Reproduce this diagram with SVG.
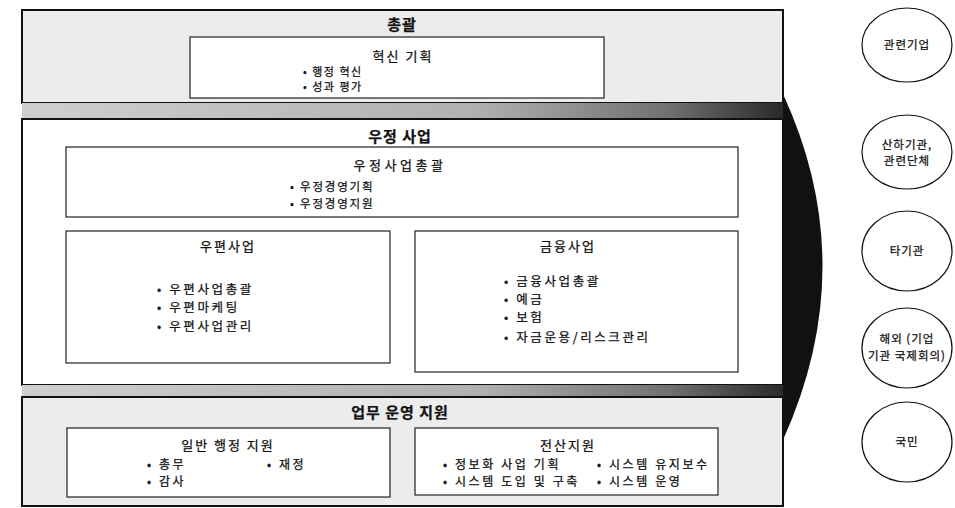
<svg xmlns="http://www.w3.org/2000/svg" width="955" height="508" viewBox="0 0 955 508">
<defs>
<linearGradient id="band" x1="0" y1="0" x2="1" y2="0">
<stop offset="0" stop-color="#cfcfcf"/>
<stop offset="0.6" stop-color="#b0b0b0"/>
<stop offset="0.85" stop-color="#707070"/>
<stop offset="1" stop-color="#2a2a2a"/>
</linearGradient>
<style>
text{font-family:"Noto Sans CJK KR","Noto Sans",sans-serif;fill:#111;stroke:#111;stroke-width:0.25}
.outer{stroke:#111;stroke-width:2}
.gray{fill:#ececec}
.inner{fill:#fff;stroke:#222;stroke-width:1.2}
.h1{font-size:15px;font-weight:bold;text-anchor:middle;letter-spacing:1px}
.h2{font-size:13px;text-anchor:middle;letter-spacing:2px}
.h2w{letter-spacing:3.5px}
.b{font-size:11px;letter-spacing:1.5px}
.bs{font-size:11.5px;letter-spacing:1.8px}
.bl{font-size:12.5px;letter-spacing:2.6px}
.bm{font-size:12px;letter-spacing:2.6px}
.c{fill:#fff;stroke:#111;stroke-width:1.2}
.ct{font-size:11.5px;text-anchor:middle;letter-spacing:1px}
</style>
</defs>
<g id="crescent">
<path d="M783,94 Q862,265 783,440 Z" fill="#111"/>
</g>
<g id="top">
<rect class="outer gray" x="22" y="10" width="761" height="93"/>
<rect x="22" y="103" width="761" height="16" fill="url(#band)"/>
<text class="h1" x="402" y="30">총괄</text>
<g id="innovation">
<rect class="inner" x="190" y="37" width="414" height="61"/>
<text class="h2" x="403" y="61">혁신 기획</text>
<text class="b" x="303" y="76">• 행정 혁신</text>
<text class="b" x="303" y="91">• 성과 평가</text>
</g>
</g>
<g id="postal">
<rect class="outer" fill="#fff" x="22" y="119" width="761" height="266"/>
<rect x="22" y="385" width="761" height="12" fill="url(#band)"/>
<text class="h1" x="400" y="142">우정 사업</text>
<g id="postal-general">
<rect class="inner" x="66" y="147" width="672" height="70"/>
<text class="h2 h2w" x="400" y="170">우정사업총괄</text>
<text class="bs" x="290" y="191">• 우정경영기획</text>
<text class="bs" x="290" y="208">• 우정경영지원</text>
</g>
<g id="mail">
<rect class="inner" x="66" y="231" width="324" height="132"/>
<text class="h2" x="228" y="251">우편사업</text>
<text class="bl" x="157" y="294">• 우편사업총괄</text>
<text class="bl" x="157" y="312">• 우편마케팅</text>
<text class="bl" x="157" y="331">• 우편사업관리</text>
</g>
<g id="finance">
<rect class="inner" x="415" y="231" width="323" height="141"/>
<text class="h2" x="568" y="251">금융사업</text>
<text class="bl" x="504" y="286">• 금융사업총괄</text>
<text class="bl" x="504" y="304">• 예금</text>
<text class="bl" x="504" y="322">• 보험</text>
<text class="bl" x="504" y="342">• 자금운용/리스크관리</text>
</g>
</g>
<g id="support">
<rect class="outer gray" x="22" y="397" width="761" height="109"/>
<text class="h1" x="400" y="418">업무 운영 지원</text>
<g id="admin">
<rect class="inner" x="67" y="428" width="323" height="69"/>
<text class="h2" x="228" y="450">일반 행정 지원</text>
<text class="bm" x="147" y="469">• 총무</text>
<text class="bm" x="267" y="469">• 재정</text>
<text class="bm" x="147" y="486">• 감사</text>
</g>
<g id="it">
<rect class="inner" x="415" y="428" width="303" height="67"/>
<text class="h2" x="568" y="450">전산지원</text>
<text class="bm" x="443" y="469">• 정보화 사업 기획</text>
<text class="bm" x="597" y="469">• 시스템 유지보수</text>
<text class="bm" x="443" y="486">• 시스템 도입 및 구축</text>
<text class="bm" x="597" y="486">• 시스템 운영</text>
</g>
</g>
<g id="c1"><ellipse class="c" cx="907" cy="45" rx="45" ry="37"/><text class="ct" x="907" y="49">관련기업</text></g>
<g id="c2"><ellipse class="c" cx="907" cy="152" rx="45" ry="37"/><text class="ct" x="907" y="149">산하기관,</text><text class="ct" x="907" y="165">관련단체</text></g>
<g id="c3"><ellipse class="c" cx="907" cy="251" rx="45" ry="40"/><text class="ct" x="907" y="255">타기관</text></g>
<g id="c4"><ellipse class="c" cx="907" cy="348" rx="45" ry="40"/><text class="ct" x="907" y="343">해외 (기업</text><text class="ct" x="907" y="360">기관 국제회의)</text></g>
<g id="c5"><ellipse class="c" cx="907" cy="442" rx="45" ry="40"/><text class="ct" x="907" y="446">국민</text></g>
</svg>
